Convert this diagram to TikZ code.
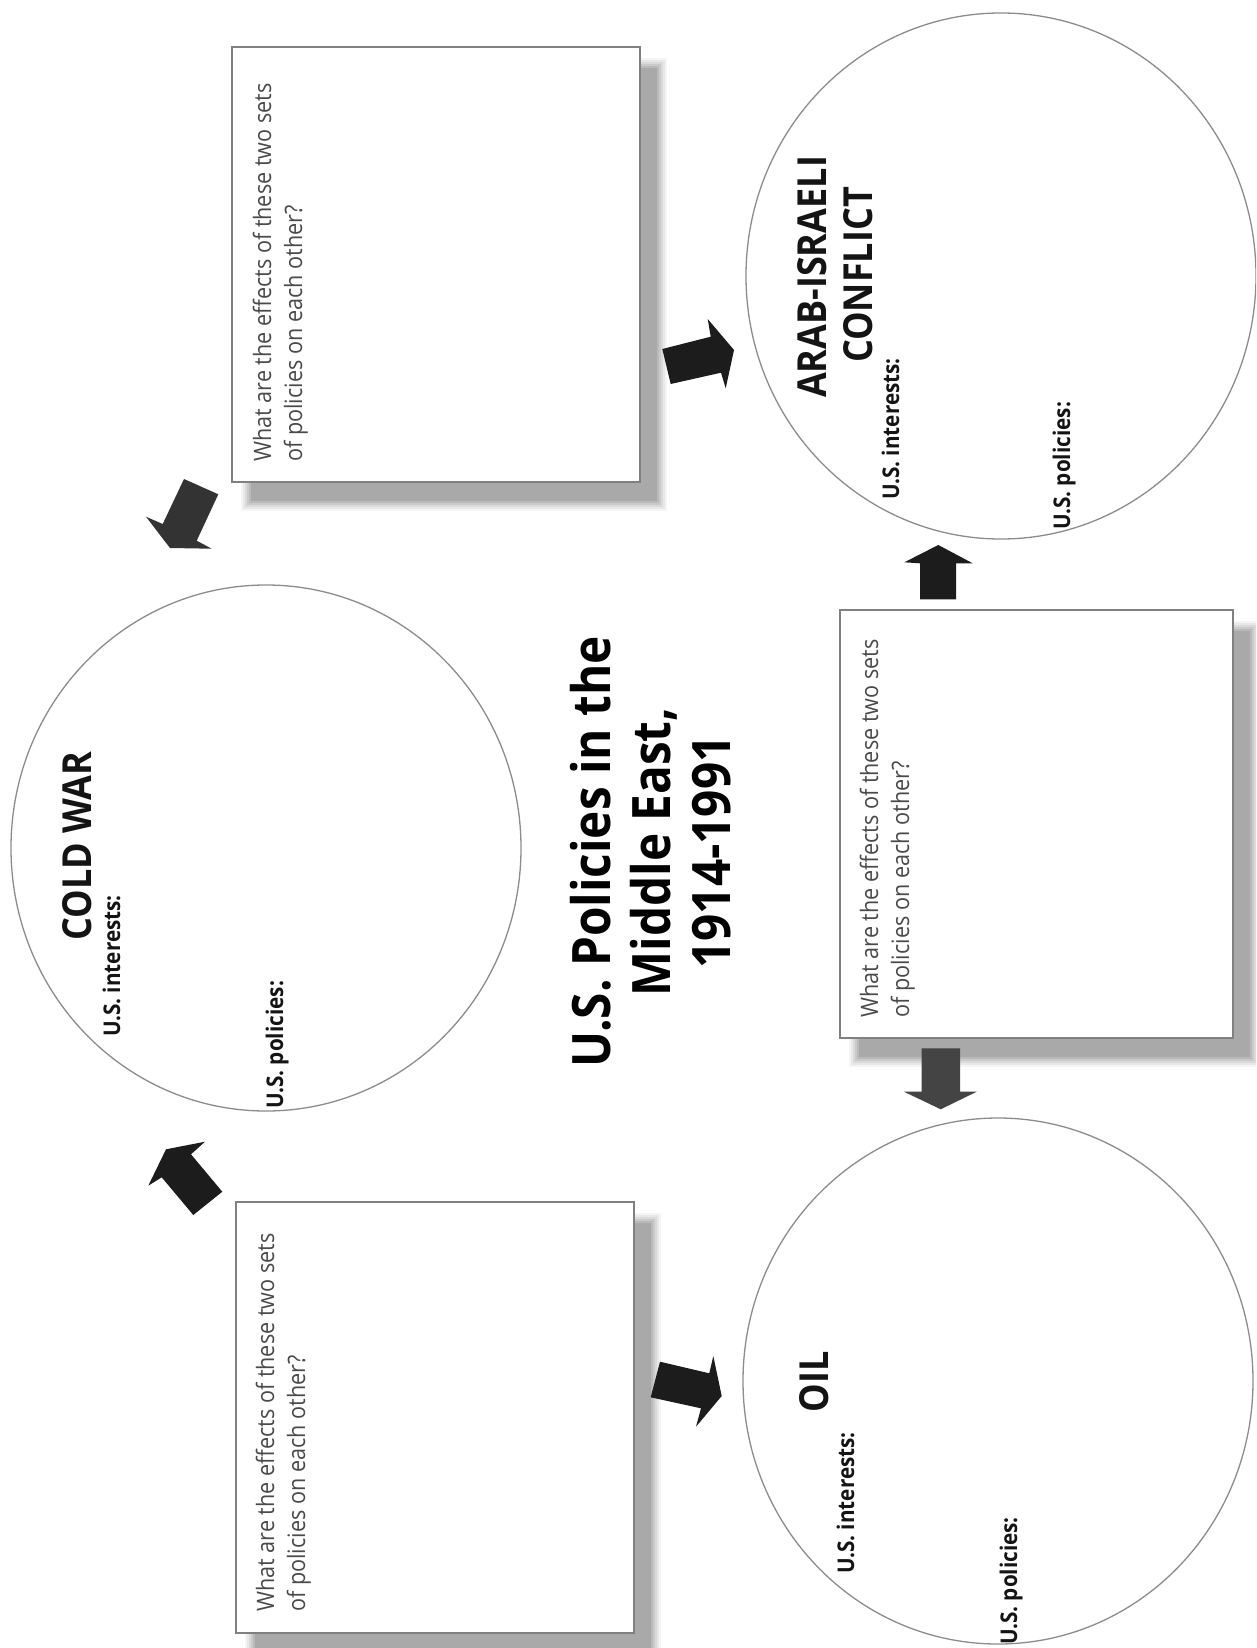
\documentclass[tikz,border=0pt]{standalone}
\usepackage{fontspec}
\setmainfont[FakeStretch=0.9]{Open Sans}
\usetikzlibrary{shapes.geometric}
\definecolor{circgray}{HTML}{8C8C8C}
\definecolor{boxgray}{HTML}{808080}
\definecolor{ink}{HTML}{141414}
\definecolor{asktext}{HTML}{4A4A4A}
\definecolor{arrowA}{HTML}{333333}
\definecolor{arrowB}{HTML}{1C1C1C}
\definecolor{arrowC}{HTML}{444444}
\newcommand\qshadow[4]{%
  \foreach \e/\o in {9/0.04,7/0.05,5/0.06,3/0.07,1/0.08,-1/0.09}{%
    \fill[black,fill opacity=\o] ({#1+18-\e},{#2+20-\e}) rectangle ({#3+18+\e},{#4+20+\e});}}
\begin{document}
\begin{tikzpicture}[x=1pt,y=-1pt,
  ring/.style={draw=circgray, line width=1.3pt, ellipse, minimum width=510pt, minimum height=526pt, inner sep=0pt},
  qbox/.style={draw=boxgray, fill=white, line width=1.6pt, inner sep=0pt, rectangle},
  head/.style={rotate=90, anchor=base, inner sep=0pt, text=ink, font=\bfseries\fontsize{40}{48}\selectfont},
  lab/.style={rotate=90, anchor=base west, inner sep=0pt, text=ink, font=\bfseries\fontsize{23}{28}\selectfont},
  ask/.style={rotate=90, anchor=base west, inner sep=0pt, text=asktext, font=\fontsize{24}{30}\selectfont},
  ttl/.style={rotate=90, anchor=base, inner sep=0pt, text=black, font=\bfseries\fontsize{53}{64}\selectfont},
  blk/.style={fill=#1, draw=none}]
\useasboundingbox (0,0) rectangle (1256,1648);
\clip (0,0) rectangle (1256,1648);
\fill[white] (0,0) rectangle (1256,1648);

% shadows
\qshadow{232}{47}{640}{482}
\qshadow{840}{610}{1233}{1038}
\qshadow{236}{1202}{634}{1633}

% question boxes
\node[qbox, minimum width=408pt, minimum height=435pt] (b1) at (436,264.5) {};
\node[qbox, minimum width=393pt, minimum height=428pt] (b2) at (1036.5,824) {};
\node[qbox, minimum width=398pt, minimum height=431pt] (b3) at (435,1417.5) {};

% circles
\node[ring] (cw) at (266,848) {};
\node[ring] (ai) at (1001,276) {};
\node[ring] (oil) at (998,1381) {};

% circle texts
\node[head] (cwh) at (91,846) {COLD WAR};
\node[lab] (cwi) at (120,1037) {U.S. interests:};
\node[lab] (cwp) at (283,1109) {U.S. policies:};

\node[head] (aih1) at (826,277) {ARAB-ISRAELI};
\node[head] (aih2) at (872,275) {CONFLICT};
\node[lab] (aii) at (899,500) {U.S. interests:};
\node[lab] (aip) at (1070,530) {U.S. policies:};

\node[head] (oilh) at (828,1382) {OIL};
\node[lab] (oili) at (854,1574) {U.S. interests:};
\node[lab] (oilp) at (1017,1645) {U.S. policies:};

% box texts
\node[ask] (b1a) at (271,462) {What are the effects of these two sets};
\node[ask] (b1b) at (302,462) {of policies on each other?};
\node[ask] (b2a) at (878,1018) {What are the effects of these two sets};
\node[ask] (b2b) at (909,1018) {of policies on each other?};
\node[ask] (b3a) at (274,1612) {What are the effects of these two sets};
\node[ask] (b3b) at (305,1612) {of policies on each other?};

% title
\node[ttl] (t1) at (610,852) {U.S. Policies in the};
\node[ttl] (t2) at (670,852) {Middle East,};
\node[ttl] (t3) at (730,852) {1914-1991};

% block arrows
\fill[blk=arrowA] (184,479) -- (218.3,494.3) -- (196.7,540.7) -- (211.7,548.7) -- (170,548) -- (146,516.7) -- (162.7,524) -- cycle;
\fill[blk=arrowB] (662.3,349) -- (710.7,336.7) -- (707.7,319) -- (734,350) -- (725.7,388.3) -- (721,372.7) -- (670.7,384) -- cycle;
\fill[blk=arrowB] (938.3,545) -- (972.7,563.3) -- (956,563.3) -- (956,599.3) -- (920,599.3) -- (920,563.3) -- (904.3,562.3) -- cycle;
\fill[blk=arrowC] (921.7,1048.3) -- (960,1048.3) -- (960,1091.7) -- (976.7,1091.7) -- (940.7,1109.3) -- (904,1091.7) -- (921.7,1091.7) -- cycle;
\fill[blk=arrowB] (660,1361.7) -- (709.3,1373.3) -- (713.3,1356) -- (721.7,1396) -- (696,1426.7) -- (701,1408.3) -- (650.7,1397.3) -- cycle;
\fill[blk=arrowB] (166,1149.3) -- (205,1141.7) -- (191,1154.3) -- (222.3,1191.7) -- (193.3,1215) -- (161.7,1177.3) -- (148.3,1185.7) -- cycle;
\end{tikzpicture}
\end{document}
